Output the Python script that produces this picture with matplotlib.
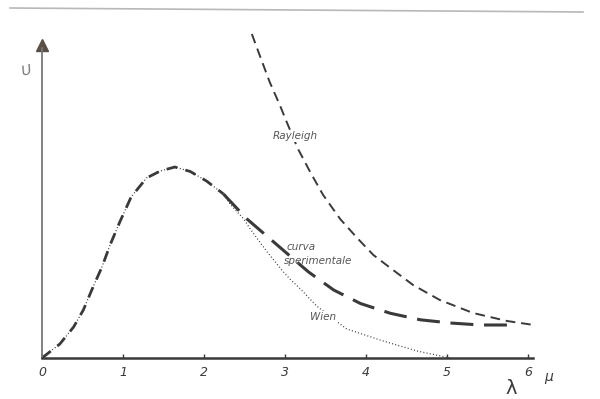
import numpy as np
import matplotlib
matplotlib.use("Agg")
import matplotlib.pyplot as plt
from matplotlib.lines import Line2D

# curves: wavelength (micron) vs height above the axis
lam_rise = [0.0, 0.22, 0.39, 0.51, 0.63, 0.74, 0.84, 0.96, 1.10, 1.29,
            1.46, 1.64, 1.83, 2.03, 2.24]
u_rise = [0, 14, 31, 48, 71, 91, 113, 136, 161, 180,
          187, 191, 186.5, 177, 164]

lam_exp_tail = [2.24, 2.32, 2.53, 2.86, 3.29, 3.60, 3.93, 4.30, 4.67, 5.04,
                5.41, 5.86]
u_exp_tail = [164, 157, 139, 116, 86, 68, 54.5, 44.7, 38.2, 35, 33, 33]

lam_wien_tail = [2.24, 2.32, 2.49, 2.57, 2.77, 2.98, 3.06, 3.19, 3.39, 3.76,
                 3.93, 4.21, 4.63, 5.04]
u_wien_tail = [164, 154, 139, 129, 107, 86, 79, 69, 52, 29,
               24.5, 17, 7, 0]

lam_ray = [2.59, 2.69, 2.81, 2.94, 3.02, 3.16, 3.31, 3.47, 3.68, 3.89,
           4.09, 4.30, 4.58, 4.91, 5.32, 5.74, 6.07]
u_ray = [324, 302, 276, 252, 236, 209, 186, 163, 139, 120,
         103, 90, 73, 58, 45, 37, 33]

ticks = [0, 1, 2, 3, 4, 5, 6]
tick_labels = ["0", "1", "2", "3", "4", "5", "6"]

ink = "#3a3a3a"
txt = "#555555"

fig = plt.figure(figsize=(6.0, 3.99), dpi=100)
ax = fig.add_axes([42/600, 41/399, 491/600, 325/399])

# experimental curve: short dashes where it meets Wien, long heavy dashes after
ax.plot(lam_rise, u_rise, color=ink, lw=2.0, dashes=(4, 3))
ax.plot(lam_exp_tail, u_exp_tail, color=ink, lw=2.2, dashes=(7.5, 3.5))
# Wien: dotted, lies on the experimental curve at short wavelengths
ax.plot(lam_rise + lam_wien_tail[1:], u_rise + u_wien_tail[1:],
        color=ink, lw=0.9, dashes=(0.8, 1.8))
ax.plot(lam_ray, u_ray, color=ink, lw=1.4, dashes=(5, 3), clip_on=False)

ax.set_xlim(0, 6.06)
ax.set_ylim(0, 325)

for s in ["top", "right"]:
    ax.spines[s].set_visible(False)
ax.spines["bottom"].set_color(ink)
ax.spines["bottom"].set_linewidth(1.8)
ax.spines["left"].set_color("#777777")
ax.spines["left"].set_linewidth(1.3)
ax.spines["left"].set_bounds(0, 310)

ax.plot([0], [313], marker="^", ms=9, color="#5a5048", clip_on=False)

ax.set_xticks(ticks)
ax.set_xticklabels(tick_labels, fontstyle="italic", fontsize=9, color=ink)
ax.set_yticks([])
ax.tick_params(axis="x", direction="in", length=3, width=1, colors=ink, pad=6)

ax.text(6.2, -19, "μ", fontsize=10, fontstyle="italic", color=ink,
        ha="left", va="center")
ax.text(5.79, -30, "λ", fontsize=14, color=ink, ha="center", va="center",
        clip_on=False)
ax.text(-0.2, 287, "U", fontsize=10, fontstyle="italic", color="#777777",
        ha="center", va="center", rotation=15)

lab_box = dict(facecolor="white", edgecolor="none", pad=1.0)
ax.text(2.85, 222, "Rayleigh", fontsize=7.5, fontstyle="italic", color=txt,
        ha="left", va="center", bbox=lab_box, zorder=5)
ax.text(3.02, 111, "curva", fontsize=7.5, fontstyle="italic", color=txt,
        ha="left", va="center")
ax.text(2.98, 97, "sperimentale", fontsize=7.5, fontstyle="italic", color=txt,
        ha="left", va="center")
ax.text(3.31, 41, "Wien", fontsize=7.5, fontstyle="italic", color=txt,
        ha="left", va="center", bbox=lab_box, zorder=5)

# scan border line at the top
fig.add_artist(Line2D([10/600, 583/600], [1 - 8/399, 1 - 12/399],
                      color="#b8b8b8", lw=1.2))

fig.savefig("out.png", dpi=100)
